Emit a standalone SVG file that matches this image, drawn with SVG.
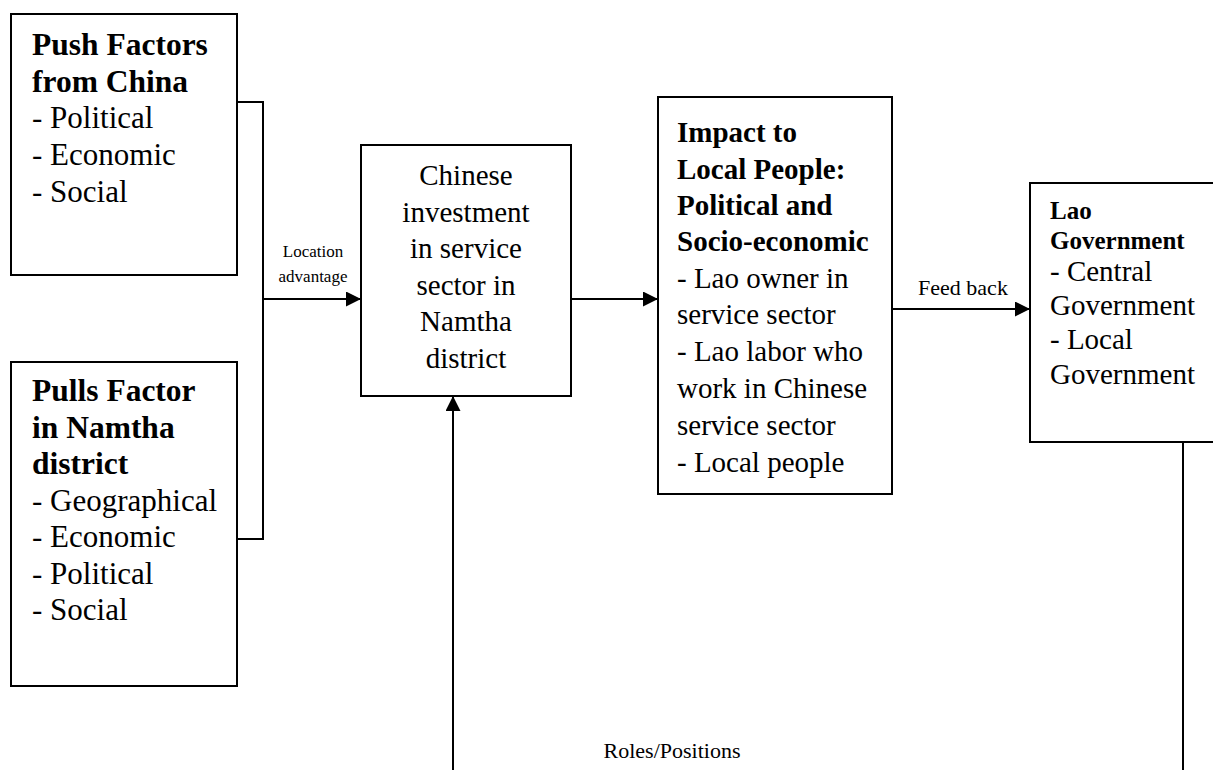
<svg xmlns="http://www.w3.org/2000/svg" width="1213" height="770" viewBox="0 0 1213 770">
  <style>
    .box { fill: #ffffff; stroke: #000000; stroke-width: 2; }
    .line { fill: none; stroke: #000000; stroke-width: 2; }
    text { font-family: "Liberation Serif", "Times New Roman", serif; fill: #000000; }
    .body { font-size: 29px; }
    .head { font-size: 29px; font-weight: bold; }
    .side { font-size: 31px; }
    .sidehead { font-size: 31.5px; font-weight: bold; }
    .small { font-size: 17px; }
    .label { font-size: 22px; }
    .govhead { font-size: 25px; font-weight: bold; }
  </style>
  <defs>
    <marker id="arrow" markerUnits="userSpaceOnUse" markerWidth="16" markerHeight="16" refX="15" refY="7.5" orient="auto">
      <path d="M0,0 L15,7.5 L0,15 z" fill="#000000"/>
    </marker>
  </defs>

  <rect width="1213" height="770" fill="#ffffff"/>

  <!-- connectors -->
  <g id="connectors">
    <!-- bracket joining push and pull factors -->
    <polyline class="line" points="237,102 263,102 263,539 237,539"/>
    <line class="line" x1="263" y1="299" x2="361" y2="299" marker-end="url(#arrow)"/>
    <text class="small" text-anchor="middle" x="313" y="257">Location</text>
    <text class="small" text-anchor="middle" x="313" y="282">advantage</text>
    <line class="line" x1="571" y1="299" x2="658" y2="299" marker-end="url(#arrow)"/>
    <line class="line" x1="892" y1="309" x2="1030" y2="309" marker-end="url(#arrow)"/>
    <text class="label" text-anchor="middle" x="963" y="295">Feed back</text>
    <!-- roles/positions loop from Lao government back to investment -->
    <line class="line" x1="1183" y1="442" x2="1183" y2="770"/>
    <line class="line" x1="453" y1="770" x2="453" y2="396" marker-end="url(#arrow)"/>
    <text class="label" text-anchor="middle" x="672" y="758">Roles/Positions</text>
  </g>

  <g id="push-factors">
    <rect class="box" x="11" y="14" width="226" height="261"/>
    <text class="sidehead" x="32" y="55">Push Factors</text>
    <text class="sidehead" x="32" y="92">from China</text>
    <text class="side" x="32" y="128">- Political</text>
    <text class="side" x="32" y="165">- Economic</text>
    <text class="side" x="32" y="202">- Social</text>
  </g>

  <g id="pull-factors">
    <rect class="box" x="11" y="362" width="226" height="324"/>
    <text class="sidehead" x="32" y="401">Pulls Factor</text>
    <text class="sidehead" x="32" y="438">in Namtha</text>
    <text class="sidehead" x="32" y="474">district</text>
    <text class="side" x="32" y="511">- Geographical</text>
    <text class="side" x="32" y="547">- Economic</text>
    <text class="side" x="32" y="584">- Political</text>
    <text class="side" x="32" y="620">- Social</text>
  </g>

  <g id="chinese-investment">
    <rect class="box" x="361" y="145" width="210" height="251"/>
    <text class="body" text-anchor="middle" x="466" y="185">Chinese</text>
    <text class="body" text-anchor="middle" x="466" y="222">investment</text>
    <text class="body" text-anchor="middle" x="466" y="258">in service</text>
    <text class="body" text-anchor="middle" x="466" y="295">sector in</text>
    <text class="body" text-anchor="middle" x="466" y="331">Namtha</text>
    <text class="body" text-anchor="middle" x="466" y="368">district</text>
  </g>

  <g id="impact">
    <rect class="box" x="658" y="97" width="234" height="397"/>
    <text class="head" x="677" y="142">Impact to</text>
    <text class="head" x="677" y="179">Local People:</text>
    <text class="head" x="677" y="215">Political and</text>
    <text class="head" x="677" y="251">Socio-economic</text>
    <text class="body" x="677" y="288">- Lao owner in</text>
    <text class="body" x="677" y="324">service sector</text>
    <text class="body" x="677" y="361">- Lao labor who</text>
    <text class="body" x="677" y="398">work in Chinese</text>
    <text class="body" x="677" y="435">service sector</text>
    <text class="body" x="677" y="472">- Local people</text>
  </g>

  <g id="lao-government">
    <rect class="box" x="1030" y="183" width="200" height="259"/>
    <text class="govhead" x="1050" y="219">Lao</text>
    <text class="govhead" x="1050" y="249">Government</text>
    <text class="body" x="1050" y="281">- Central</text>
    <text class="body" x="1050" y="315">Government</text>
    <text class="body" x="1050" y="349">- Local</text>
    <text class="body" x="1050" y="384">Government</text>
  </g>
</svg>
